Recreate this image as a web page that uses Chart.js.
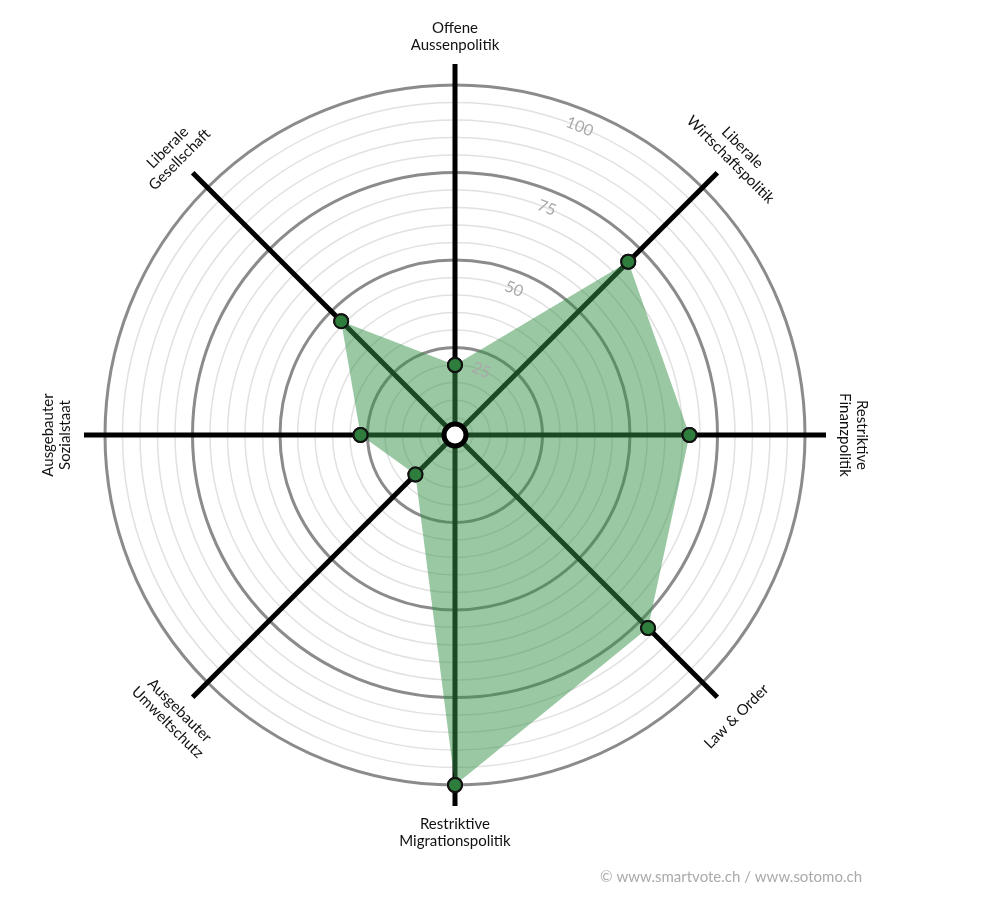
<!DOCTYPE html>
<html>
<head>
<meta charset="utf-8">
<script src="https://cdn.jsdelivr.net/npm/chart.js@4/dist/chart.umd.min.js"></script>
<style>
  html, body { margin: 0; padding: 0; background: #fff; }
  #wrap { width: 1000px; height: 920px; position: relative; }
</style>
</head>
<body>
<div id="wrap"><canvas id="spider"></canvas></div>
<script>
// setup
const axisLabels = [
  ['Offene', 'Aussenpolitik'],
  ['Liberale', 'Wirtschaftspolitik'],
  ['Restriktive', 'Finanzpolitik'],
  ['Law & Order'],
  ['Restriktive', 'Migrationspolitik'],
  ['Ausgebauter', 'Umweltschutz'],
  ['Ausgebauter', 'Sozialstaat'],
  ['Liberale', 'Gesellschaft']
];
const profileValues = [20, 70, 67, 78, 100, 16, 27, 46];
const ringTicks = [25, 50, 75, 100];

// custom drawing: points on top, axis labels, ring numbers, centre hole, credit
const decorations = {
  id: 'decorations',
  afterDraw(chart) {
    const ctx = chart.ctx;
    const r = chart.scales.r;
    const n = axisLabels.length;

    // points again, above the axis lines
    chart.getDatasetMeta(0).data.forEach(p => p.draw(ctx, chart.chartArea));

    // centre hole
    ctx.save();
    ctx.beginPath();
    ctx.arc(r.xCenter, r.yCenter, 11, 0, Math.PI * 2);
    ctx.fillStyle = '#fff';
    ctx.fill();
    ctx.lineWidth = 5;
    ctx.strokeStyle = '#000';
    ctx.stroke();
    ctx.restore();

    // ring numbers
    const tickAngle = 22 * Math.PI / 180;
    ringTicks.forEach(v => {
      const d = r.getDistanceFromCenterForValue(v - 5);
      const x = r.xCenter + Math.sin(tickAngle) * d;
      const y = r.yCenter - Math.cos(tickAngle) * d;
      ctx.save();
      ctx.translate(x, y);
      ctx.rotate(tickAngle);
      ctx.font = '16px Lato, "Open Sans", sans-serif';
      ctx.fillStyle = '#aaa';
      ctx.textAlign = 'center';
      ctx.textBaseline = 'middle';
      ctx.fillText(String(v), 0, 0);
      ctx.restore();
    });

    // axis labels
    axisLabels.forEach((lines, i) => {
      const deg = i * 360 / n;
      const rad = deg * Math.PI / 180;
      const d = 398;
      const x = r.xCenter + Math.sin(rad) * d;
      const y = r.yCenter - Math.cos(rad) * d;
      let rot = deg <= 90 ? deg : (deg < 270 ? deg - 180 : deg - 360);
      ctx.save();
      ctx.translate(x, y);
      ctx.rotate(rot * Math.PI / 180);
      ctx.font = '15px Lato, "Open Sans", sans-serif';
      ctx.fillStyle = '#111';
      ctx.textAlign = 'center';
      ctx.textBaseline = 'middle';
      const lh = 17;
      lines.forEach((t, k) => {
        ctx.fillText(t, 0, (k - (lines.length - 1) / 2) * lh);
      });
      ctx.restore();
    });

    // credit
    ctx.save();
    ctx.font = '15px Lato, "Open Sans", sans-serif';
    ctx.fillStyle = '#aaa';
    ctx.textAlign = 'right';
    ctx.textBaseline = 'middle';
    ctx.fillText('\u00A9 www.smartvote.ch / www.sotomo.ch', 862, 877);
    ctx.restore();
  }
};

const data = {
  labels: axisLabels.map(l => l.join(' ')),
  datasets: [{
    data: profileValues,
    backgroundColor: 'rgba(52, 145, 72, 0.5)',
    borderWidth: 0,
    pointBackgroundColor: '#2f7d3c',
    pointBorderColor: '#111',
    pointBorderWidth: 2,
    pointRadius: 7
  }]
};

// config
const config = {
  type: 'radar',
  data,
  options: {
    responsive: false,
    animation: false,
    layout: { padding: { left: 84, right: 174, top: 64, bottom: 114 } },
    plugins: { legend: { display: false }, tooltip: { enabled: false } },
    elements: { line: { tension: 0 } },
    scales: {
      r: {
        z: 1,
        min: 0,
        max: 106,
        startAngle: 0,
        ticks: { display: false, stepSize: 5 },
        pointLabels: { display: false },
        angleLines: { color: '#000', lineWidth: 5 },
        grid: {
          circular: true,
          color: ctx => {
            const v = ctx.tick.value;
            if (v > 100) return 'rgba(0,0,0,0)';
            return v % 25 === 0 ? 'rgba(110,110,110,0.8)' : 'rgba(200,200,200,0.55)';
          },
          lineWidth: ctx => (ctx.tick.value % 25 === 0 ? 3 : 1.5)
        }
      }
    }
  },
  plugins: [decorations]
};

// render init block
const canvas = document.getElementById('spider');
canvas.width = 1000;
canvas.height = 920;
const myChart = new Chart(canvas, config);
</script>
</body>
</html>
